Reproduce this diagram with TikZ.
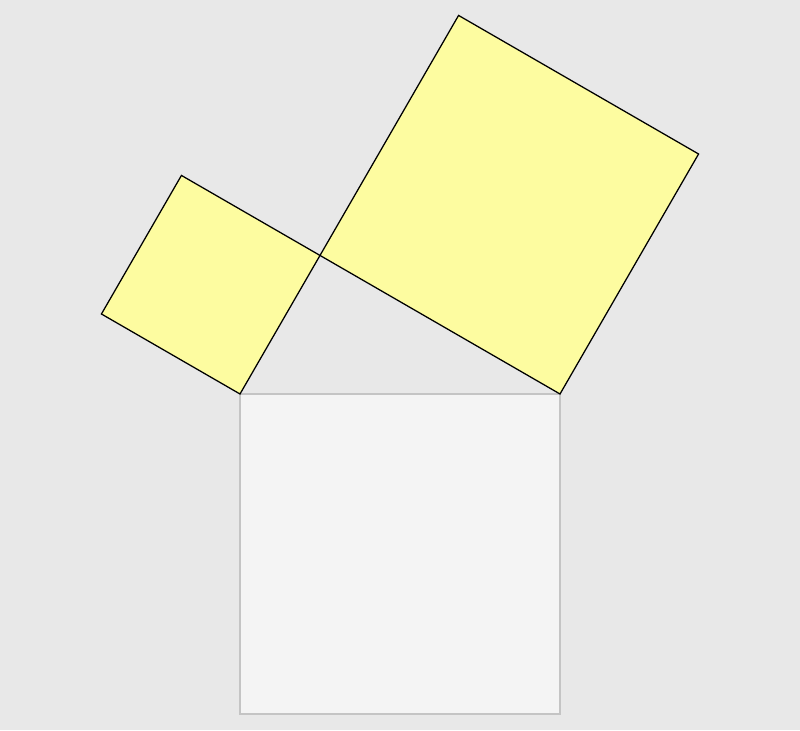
\documentclass[tikz,border=0pt]{standalone}
\usetikzlibrary{calc}
\definecolor{bgback}{HTML}{E8E8E8}
\definecolor{legfill}{HTML}{FDFCA0}
\definecolor{hypfill}{HTML}{F4F4F4}
\definecolor{hypline}{HTML}{C4C4C4}
\begin{document}
\begin{tikzpicture}[
    x=0.025cm, y=0.025cm,
    % define styles
    leg/.style={
        draw=black,
        fill=legfill,
        line width=0.9pt,
        line join=miter
    },
    hyp/.style={
        draw=hypline,
        fill=hypfill,
        line width=1.1pt
    }
]
% Background
\fill[bgback] (0,0) rectangle (800,730);
\useasboundingbox (0,0) rectangle (800,730);
% Right triangle corners
\coordinate (A) at (240,336);
\coordinate (B) at (560,336);
\coordinate (C) at ($(A)!0.5!60:(B)$);
% Square on the hypotenuse
\coordinate (B2) at ($(B)!1!90:(A)$);
\coordinate (A2) at ($(A)!1!-90:(B)$);
\draw[hyp] (A) -- (B) -- (B2) -- (A2) -- cycle;
% Square on the short leg
\coordinate (C1) at ($(C)!1!-90:(A)$);
\coordinate (A1) at ($(A)!1!90:(C)$);
\draw[leg] (A) -- (C) -- (C1) -- (A1) -- cycle;
% Square on the long leg
\coordinate (B3) at ($(B)!1!-90:(C)$);
\coordinate (C3) at ($(C)!1!90:(B)$);
\draw[leg] (C) -- (B) -- (B3) -- (C3) -- cycle;
\end{tikzpicture}
\end{document}
